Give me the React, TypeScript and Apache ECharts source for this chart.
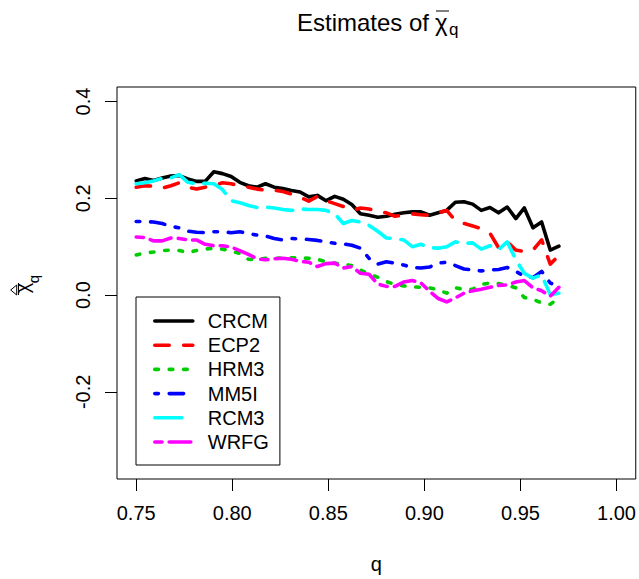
import React, { useEffect, useRef } from "react";
import * as echarts from "echarts";

// q grid: seq(0.75, 0.97, length = 50)
const qValues = [
  0.75, 0.7545, 0.759, 0.7635, 0.768, 0.7724, 0.7769, 0.7814, 0.7859, 0.7904,
  0.7949, 0.7994, 0.8039, 0.8084, 0.8129, 0.8173, 0.8218, 0.8263, 0.8308, 0.8353,
  0.8398, 0.8443, 0.8488, 0.8533, 0.8578, 0.8622, 0.8667, 0.8712, 0.8757, 0.8802,
  0.8847, 0.8892, 0.8937, 0.8982, 0.9027, 0.9071, 0.9116, 0.9161, 0.9206, 0.9251,
  0.9296, 0.9341, 0.9386, 0.9431, 0.9476, 0.952, 0.9565, 0.961, 0.9655, 0.97,
];

const CRCM = [
  0.236, 0.241, 0.237, 0.242, 0.246, 0.247, 0.24, 0.235, 0.235, 0.255,
  0.251, 0.245, 0.233, 0.226, 0.223, 0.23, 0.223, 0.22, 0.216, 0.213,
  0.203, 0.206, 0.195, 0.204, 0.198, 0.187, 0.168, 0.165, 0.161, 0.163,
  0.167, 0.17, 0.172, 0.172, 0.165, 0.17, 0.175, 0.192, 0.193, 0.188,
  0.175, 0.181, 0.17, 0.182, 0.158, 0.18, 0.139, 0.151, 0.093, 0.101,
];
const ECP2 = [
  0.223, 0.226, 0.225, 0.221, 0.226, 0.232, 0.223, 0.219, 0.223, 0.227,
  0.232, 0.23, 0.226, 0.223, 0.219, 0.217, 0.217, 0.214, 0.209, 0.202,
  0.194, 0.204, 0.195, 0.189, 0.183, 0.175, 0.18, 0.178, 0.173, 0.17,
  0.163, 0.165, 0.168, 0.166, 0.165, 0.17, 0.175, 0.154, 0.148, 0.143,
  0.137, 0.128, 0.098, 0.11, 0.093, 0.09, 0.093, 0.114, 0.064, 0.082,
];
const HRM3 = [
  0.083, 0.087, 0.089, 0.092, 0.093, 0.092, 0.088, 0.092, 0.095, 0.097,
  0.095, 0.091, 0.086, 0.074, 0.073, 0.076, 0.076, 0.077, 0.077, 0.077,
  0.076, 0.074, 0.069, 0.066, 0.064, 0.061, 0.052, 0.043, 0.037, 0.028,
  0.022, 0.019, 0.017, 0.016, 0.015, 0.011, 0.004, 0.015, 0.012, 0.012,
  0.022, 0.025, 0.024, 0.02, 0.015, -0.005, -0.009, -0.016, -0.019, -0.006,
];
const MM5I = [
  0.152, 0.152, 0.151, 0.148, 0.142, 0.139, 0.132, 0.13, 0.129, 0.131,
  0.131, 0.129, 0.131, 0.127, 0.124, 0.122, 0.117, 0.114, 0.117, 0.116,
  0.115, 0.113, 0.11, 0.107, 0.106, 0.103, 0.097, 0.076, 0.064, 0.069,
  0.066, 0.062, 0.057, 0.056, 0.058, 0.066, 0.068, 0.061, 0.054, 0.052,
  0.05, 0.052, 0.053, 0.057, 0.049, 0.039, 0.036, 0.049, 0.025, 0.018,
];
const RCM3 = [
  0.23, 0.232, 0.236, 0.241, 0.242, 0.249, 0.233, 0.23, 0.231, 0.23,
  0.218, 0.195, 0.191, 0.185, 0.181, 0.182, 0.18, 0.177, 0.175, 0.178,
  0.177, 0.177, 0.175, 0.168, 0.148, 0.154, 0.151, 0.144, 0.132, 0.118,
  0.117, 0.114, 0.1, 0.105, 0.098, 0.097, 0.1, 0.11, 0.107, 0.108,
  0.095, 0.102, 0.094, 0.11, 0.073, 0.045, 0.035, 0.042, 0.001, 0.004,
];
const WRFG = [
  0.12, 0.119, 0.112, 0.112, 0.118, 0.117, 0.114, 0.114, 0.105, 0.102,
  0.102, 0.099, 0.092, 0.084, 0.075, 0.073, 0.075, 0.076, 0.074, 0.07,
  0.068, 0.059, 0.065, 0.066, 0.056, 0.059, 0.045, 0.043, 0.023, 0.018,
  0.018, 0.027, 0.03, 0.025, 0.008, -0.007, -0.014, -0.006, 0.004, 0.009,
  0.012, 0.016, 0.02, 0.021, 0.027, 0.03, 0.015, 0.009, -0.002, 0.016,
];

const seriesNames = ["CRCM", "ECP2", "HRM3", "MM5I", "RCM3", "WRFG"];
const seriesValues = [CRCM, ECP2, HRM3, MM5I, RCM3, WRFG];
const seriesColors = ["#000000", "#FF0000", "#00CD00", "#0000FF", "#00FFFF", "#FF00FF"];

const xTicks = [0.75, 0.8, 0.85, 0.9, 0.95, 1.0];
const yTicks = [-0.2, 0.0, 0.2, 0.4];

const LW = 3.6;
const dashes: (string | number[])[] = [
  "solid",
  [4 * LW, 4 * LW],
  [1 * LW, 3 * LW],
  [1 * LW, 3 * LW, 4 * LW, 3 * LW],
  [7 * LW, 3 * LW],
  [2 * LW, 2 * LW, 6 * LW, 2 * LW],
];

const FONT = "'Liberation Sans', Arial, Helvetica, sans-serif";

export default function App() {
  const ref = useRef<HTMLDivElement>(null);
  useEffect(() => {
    if (!ref.current) return;
    const chart = echarts.init(ref.current, undefined, { renderer: "svg" });
    const series = seriesNames.map((name, k) => ({
      name,
      type: "line",
      data: qValues.map((q, i) => [q, seriesValues[k][i]]),
      symbol: "none",
      showSymbol: false,
      silent: true,
      z: 2 + k,
      lineStyle: {
        color: seriesColors[k],
        width: LW,
        type: dashes[k],
        cap: "round",
        join: "round",
      },
      itemStyle: { color: seriesColors[k] },
      emphasis: { disabled: true },
    }));
    const legendData = seriesNames.map((name) =>
      name === "RCM3"
        ? { name, lineStyle: { type: [7.5 * LW, 6 * LW] } }
        : { name }
    );
    chart.setOption({
      animation: false,
      grid: {
        left: 117,
        top: 87,
        width: 519,
        height: 396,
        show: true,
        borderColor: "#000",
        borderWidth: 1,
        backgroundColor: "transparent",
      },
      xAxis: {
        type: "value",
        min: 0.74,
        max: 1.01,
        axisLine: { show: false, onZero: false },
        splitLine: { show: false },
        axisTick: {
          show: true,
          length: 12,
          customValues: xTicks,
          lineStyle: { color: "#000", width: 1 },
        },
        axisLabel: {
          customValues: xTicks,
          formatter: (v: number) => v.toFixed(2),
          fontSize: 20,
          fontFamily: FONT,
          color: "#000",
          margin: 24,
        },
        name: "q",
        nameLocation: "middle",
        nameGap: 75,
        nameTextStyle: { fontSize: 20, fontFamily: FONT, color: "#000" },
      },
      yAxis: {
        type: "value",
        min: -0.38,
        max: 0.43,
        axisLine: { show: false, onZero: false },
        splitLine: { show: false },
        axisTick: {
          show: true,
          length: 12,
          customValues: yTicks,
          lineStyle: { color: "#000", width: 1 },
        },
        axisLabel: {
          customValues: yTicks,
          formatter: (v: number) => v.toFixed(1),
          rotate: 90,
          fontSize: 20,
          fontFamily: FONT,
          color: "#000",
          margin: 24,
        },
      },
      legend: {
        orient: "vertical",
        left: 136,
        top: 297,
        padding: [14, 11, 13, 17],
        itemWidth: 38,
        itemHeight: 14,
        itemGap: 4.2,
        borderColor: "#000",
        borderWidth: 1,
        backgroundColor: "#fff",
        selectedMode: false,
        data: legendData,
        itemStyle: { opacity: 0 },
        lineStyle: { width: LW, cap: "round" },
        textStyle: {
          fontSize: 20,
          fontFamily: FONT,
          color: "#000",
          padding: [0, 0, 0, 10],
        },
      },
      graphic: [
        {
          type: "text",
          x: 429,
          y: 22,
          style: { text: "Estimates of", fontSize: 24, fontFamily: FONT, fill: "#000", align: "right", verticalAlign: "middle" },
        },
        {
          type: "text",
          x: 435,
          y: 22,
          style: { text: "χ", fontSize: 24, fontFamily: FONT, fill: "#000", align: "left", verticalAlign: "middle" },
        },
        {
          type: "line",
          shape: { x1: 436, y1: 11, x2: 449, y2: 11 },
          style: { stroke: "#000", lineWidth: 1 },
        },
        {
          type: "text",
          x: 449,
          y: 29,
          style: { text: "q", fontSize: 17, fontFamily: FONT, fill: "#000", align: "left", verticalAlign: "middle" },
        },
        // y-axis title: hat(bar(chi))_q, rotated
        {
          type: "polygon",
          shape: { points: [[10.7, 290], [16.7, 285], [16.7, 295]] },
          style: { stroke: "#000", fill: "none", lineWidth: 1 },
        },
        {
          type: "line",
          shape: { x1: 18.5, y1: 283, x2: 18.5, y2: 295 },
          style: { stroke: "#000", lineWidth: 1 },
        },
        {
          type: "text",
          x: 22,
          y: 288,
          rotation: Math.PI / 2,
          style: { text: "χ", fontSize: 20, fontFamily: FONT, fill: "#000", align: "center", verticalAlign: "middle" },
        },
        {
          type: "text",
          x: 33,
          y: 279,
          rotation: Math.PI / 2,
          style: { text: "q", fontSize: 15, fontFamily: FONT, fill: "#000", align: "center", verticalAlign: "middle" },
        },
      ],
      series,
    });
    return () => chart.dispose();
  }, []);
  return (
    <div
      ref={ref}
      style={{ position: "absolute", left: 0, top: 0, width: 639, height: 579, background: "#fff" }}
    />
  );
}
